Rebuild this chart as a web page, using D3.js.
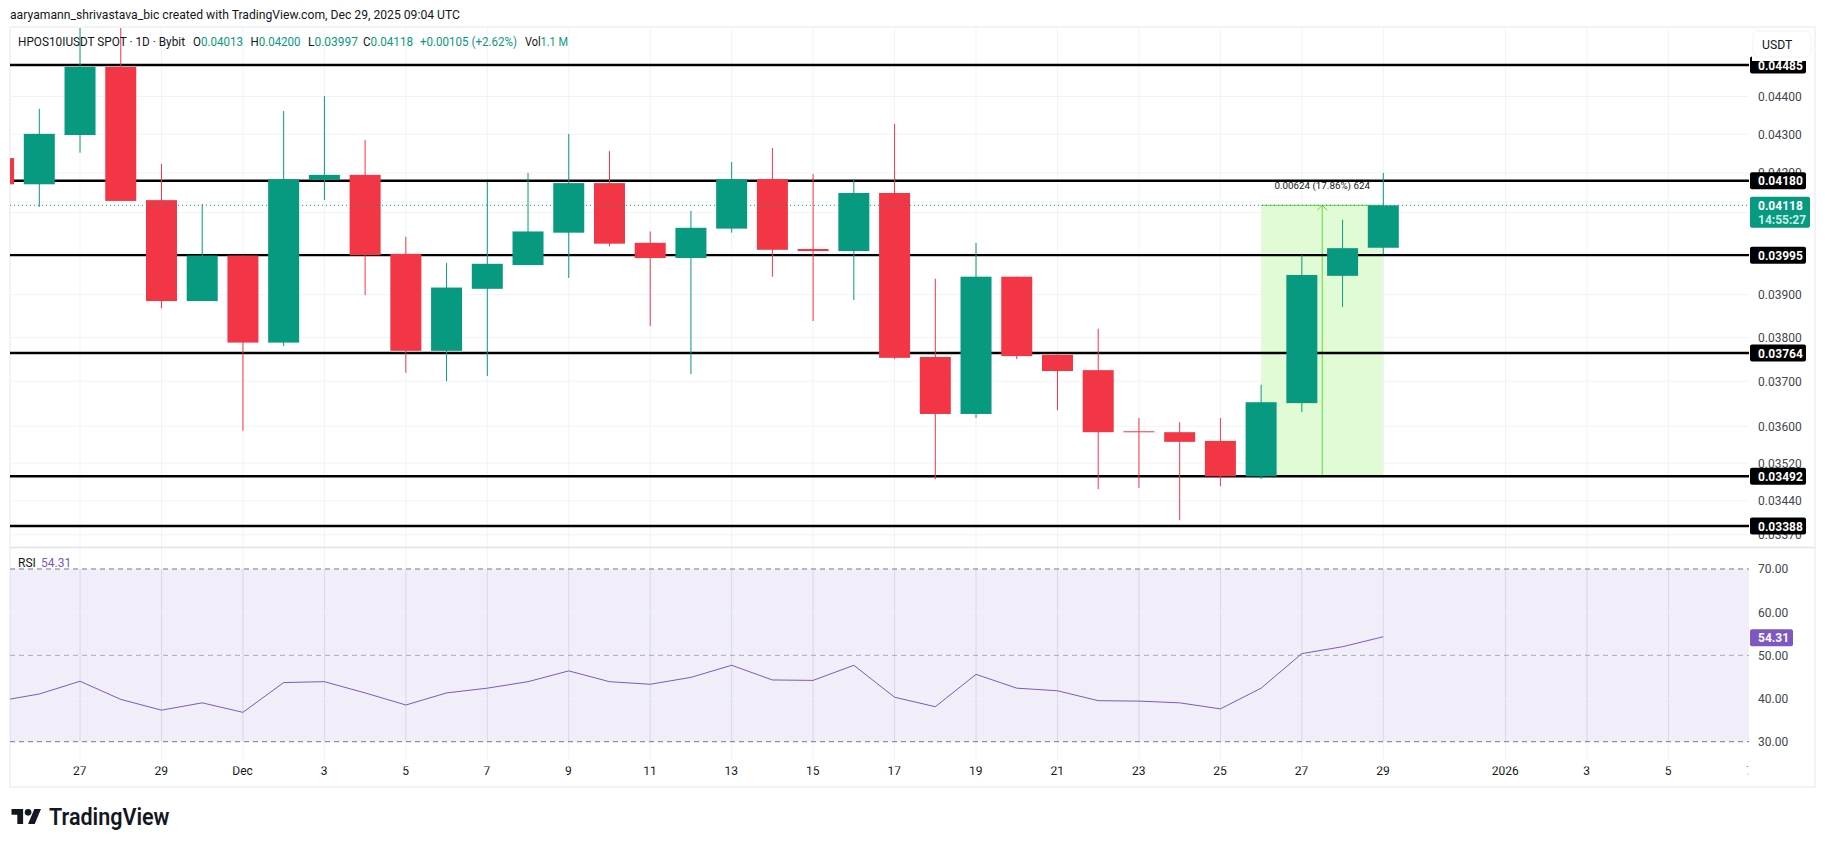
<!DOCTYPE html>
<html>
<head>
<meta charset="utf-8">
<script src="https://cdn.jsdelivr.net/npm/d3@7"></script>
<style>
html, body { margin: 0; padding: 0; background: #fff; overflow: hidden; }
text { font-family: Roboto, sans-serif; }
</style>
</head>
<body>
<svg id="chart" width="1825" height="847"></svg>
<script>
// daily candles, Nov 25 -> Dec 29 2025
const days = ['2025-11-25', '2025-11-26', '2025-11-27', '2025-11-28', '2025-11-29', '2025-11-30',
    '2025-12-01', '2025-12-02', '2025-12-03', '2025-12-04', '2025-12-05', '2025-12-06', '2025-12-07',
    '2025-12-08', '2025-12-09', '2025-12-10', '2025-12-11', '2025-12-12', '2025-12-13', '2025-12-14',
    '2025-12-15', '2025-12-16', '2025-12-17', '2025-12-18', '2025-12-19', '2025-12-20', '2025-12-21',
    '2025-12-22', '2025-12-23', '2025-12-24', '2025-12-25', '2025-12-26', '2025-12-27', '2025-12-28',
    '2025-12-29'];
const opens = [.04238, .04171, .04298, .04480, .04131, .03885, .03994, .03788, .04182, .04195, .03998, .03769,
    .03914, .03971, .04050, .04174, .04025, .03988, .04060, .04184, .04010, .04005, .04149, .03755, .03627,
    .03943, .03760, .03725, .03589, .03587, .03568, .03492, .03651, .03945, .04013];
const highs = [.04238, .04367, .04600, .04600, .04223, .04121, .03994, .04361, .04401, .04285, .04040, .03976,
    .04177, .04200, .04301, .04256, .04053, .04104, .04228, .04264, .04197, .04184, .04327, .03938, .04025,
    .03943, .03762, .03820, .03618, .03609, .03618, .03692, .03995, .04082, .04200];
const lows = [.04171, .04114, .04252, .04129, .03868, .03885, .03590, .03780, .04131, .03899, .03719, .03700,
    .03712, .03971, .03940, .04017, .03826, .03716, .04050, .03943, .03838, .03887, .03750, .03486, .03618,
    .03750, .03635, .03465, .03467, .03400, .03471, .03486, .03631, .03871, .03997];
const closes = [.04171, .04301, .04480, .04129, .03885, .03994, .03788, .04184, .04195, .03995, .03769, .03917,
    .03974, .04053, .04174, .04023, .03988, .04062, .04184, .04008, .04005, .04149, .03753, .03627, .03943,
    .03757, .03723, .03587, .03587, .03566, .03492, .03653, .03947, .04012, .04118];
const rsi = [39.4, 41.05, 44.0, 39.8, 37.3, 39.0, 36.8, 43.7, 43.9, 41.3, 38.5, 41.3, 42.4, 43.9, 46.4,
    43.9, 43.3, 44.9, 47.7, 44.3, 44.2, 47.7, 40.3, 38.1, 45.6, 42.4, 41.8, 39.5, 39.4, 39.0, 37.6, 42.4,
    50.4, 52.0, 54.31];

const levels = [.04485, .04180, .03995, .03764, .03492, .03388];
const priceGrid = [.044, .043, .042, .041, .040, .039, .038, .037, .036, .0352, .0344, .0337];
const priceLabels = [.044, .043, .042, .039, .038, .037, .036, .0352, .0344, .0337];
const rsiTicks = [70, 60, 50, 40, 30];
const rsiBands = [70, 50, 30];
const timeTicks = ['2025-11-27', '2025-11-29', '2025-12-01', '2025-12-03', '2025-12-05', '2025-12-07',
    '2025-12-09', '2025-12-11', '2025-12-13', '2025-12-15', '2025-12-17', '2025-12-19', '2025-12-21',
    '2025-12-23', '2025-12-25', '2025-12-27', '2025-12-29', '2026-01-01', '2026-01-03', '2026-01-05',
    '2026-01-07'];
const timeLabels = ['27', '29', 'Dec', '3', '5', '7', '9', '11', '13', '15', '17', '19', '21', '23', '25',
    '27', '29', '2026', '3', '5', '7'];
const measureFrom = '2025-12-26';
const measureTo = '2025-12-29';
const measureLow = .03492;
const lastPrice = .04118;

const UP = '#089981', DOWN = '#f23645', GRID = '#f0f3fa', PURPLE = '#7e57c2';
const LEFT = 10, PLOT_RIGHT = 1749, RIGHT = 1815, TOP = 28, DIVIDER = 547.5, BOTTOM = 787;

const parseDay = d3.utcParse('%Y-%m-%d');
const candles = days.map((d, i) => ({
    day: parseDay(d), o: opens[i], h: highs[i], l: lows[i], c: closes[i], rsi: rsi[i]
}));

const x = d3.scaleUtc().domain([parseDay('2025-11-26'), parseDay('2025-12-29')]).range([39.3, 1383.3]);
const y = d3.scaleLog().domain([.04485, .03388]).range([65, 526]);
const yRsi = d3.scaleLinear().domain([70, 30]).range([569, 741.7]);
const bodyW = 31;

const svg = d3.select('#chart');
const defs = svg.append('defs');
defs.append('clipPath').attr('id', 'pricePane').append('rect')
    .attr('x', LEFT).attr('y', TOP).attr('width', PLOT_RIGHT - LEFT).attr('height', DIVIDER - TOP);
defs.append('clipPath').attr('id', 'rsiPane').append('rect')
    .attr('x', LEFT).attr('y', DIVIDER).attr('width', PLOT_RIGHT - LEFT).attr('height', BOTTOM - DIVIDER);

const text = (parent, px, py, str, color, size, weight) => parent.append('text')
    .attr('x', px).attr('y', py).attr('fill', color)
    .attr('font-size', size).attr('font-weight', weight || 400).text(str);
// the reference type runs narrower than Roboto, squeeze to the measured width
const fit = (sel, w) => sel.attr('textLength', w).attr('lengthAdjust', 'spacingAndGlyphs');

// header
fit(text(svg, 10, 18.5, 'aaryamann_shrivastava_bic created with TradingView.com, Dec 29, 2025 09:04 UTC', '#131722', 12.6), 450);

// frame
svg.append('rect').attr('x', LEFT).attr('y', TOP - 1).attr('width', RIGHT - LEFT).attr('height', BOTTOM - TOP + 1)
    .attr('fill', '#fff').attr('stroke', GRID).attr('stroke-width', 2);

// grid
const gridV = svg.append('g');
gridV.selectAll('line').data(timeTicks.slice(0, -1)).enter().append('line')
    .attr('x1', d => x(parseDay(d))).attr('x2', d => x(parseDay(d)))
    .attr('y1', TOP).attr('y2', 760)
    .attr('stroke', GRID);
svg.append('g').selectAll('line').data(priceGrid).enter().append('line')
    .attr('x1', LEFT).attr('x2', PLOT_RIGHT)
    .attr('y1', d => y(d)).attr('y2', d => y(d))
    .attr('stroke', GRID);

// measure box sits under the levels and candles
const boxX0 = x(parseDay(measureFrom)), boxX1 = x(parseDay(measureTo));
svg.append('rect')
    .attr('x', boxX0).attr('width', boxX1 - boxX0)
    .attr('y', y(lastPrice)).attr('height', y(measureLow) - y(lastPrice))
    .attr('fill', '#e2fbd7');
const arrowX = (boxX0 + boxX1) / 2;
svg.append('path')
    .attr('d', `M${boxX0},${y(lastPrice)}H${boxX1}M${arrowX},${y(measureLow)}V${y(lastPrice)}M${arrowX - 5},${y(lastPrice) + 5}L${arrowX},${y(lastPrice)}L${arrowX + 5},${y(lastPrice) + 5}`)
    .attr('fill', 'none').attr('stroke', '#62d93c').attr('stroke-width', 1);

// horizontal levels
const pane = svg.append('g').attr('clip-path', 'url(#pricePane)');
pane.append('g').selectAll('line').data(levels).enter().append('line')
    .attr('x1', LEFT).attr('x2', PLOT_RIGHT)
    .attr('y1', d => y(d)).attr('y2', d => y(d))
    .attr('stroke', '#000').attr('stroke-width', 2.4);

// candles
const candle = pane.append('g').selectAll('g').data(candles).enter().append('g')
    .attr('fill', d => d.c >= d.o ? UP : DOWN)
    .attr('stroke', d => d.c >= d.o ? UP : DOWN);
candle.append('line')
    .attr('x1', d => x(d.day)).attr('x2', d => x(d.day))
    .attr('y1', d => y(d.h)).attr('y2', d => y(d.l));
candle.append('rect')
    .attr('x', d => x(d.day) - bodyW / 2).attr('width', bodyW)
    .attr('y', d => y(Math.max(d.o, d.c)))
    .attr('height', d => Math.max(1, y(Math.min(d.o, d.c)) - y(Math.max(d.o, d.c))))
    .attr('stroke', 'none');

// last price dotted line
pane.append('line')
    .attr('x1', LEFT).attr('x2', PLOT_RIGHT).attr('y1', y(lastPrice)).attr('y2', y(lastPrice))
    .attr('stroke', UP).attr('stroke-dasharray', '1 3');

// measure text
text(svg, arrowX, 189, '0.00624 (17.86%) 624', '#131722', 9.8).attr('text-anchor', 'middle');

// legend
const legendY = 46;
fit(text(svg, 18, legendY, 'HPOS10IUSDT SPOT · 1D · Bybit', '#131722', 12.6), 167);
[['O', '0.04013', 193], ['H', '0.04200', 250.5], ['L', '0.03997', 308], ['C', '0.04118', 363]].forEach(p => {
    const t = fit(text(svg, p[2], legendY, p[0], '#131722', 12.6), 50);
    t.append('tspan').attr('fill', UP).text(p[1]);
});
fit(text(svg, 420, legendY, '+0.00105 (+2.62%)', UP, 12.6), 97);
const vol = fit(text(svg, 525, legendY, 'Vol', '#131722', 12.6), 43);
vol.append('tspan').attr('fill', UP).text('1.1 M');

// price axis
const axisPrice = d3.axisRight(y).tickValues(priceLabels).tickSize(0).tickPadding(9)
    .tickFormat(d3.format('.5f'));
const gPrice = svg.append('g').attr('transform', `translate(${PLOT_RIGHT},0)`).call(axisPrice);
gPrice.select('.domain').remove();
gPrice.selectAll('text').attr('font-size', 12).attr('fill', '#42464f').style('font-family', 'Roboto, sans-serif');

// level tags
const tag = svg.append('g').selectAll('g').data(levels).enter().append('g')
    .attr('transform', d => `translate(1750,${y(d)})`);
tag.append('rect').attr('x', 0).attr('y', -8.5).attr('width', 56).attr('height', 17).attr('rx', 2).attr('fill', '#000');
tag.append('text').attr('x', 8).attr('y', 4.5).attr('fill', '#fff')
    .attr('font-size', 12).attr('font-weight', 700)
    .text(d => d3.format('.5f')(d));

// last price tag
const lastTag = svg.append('g').attr('transform', `translate(1750,${y(lastPrice) - 8.5})`);
lastTag.append('rect').attr('width', 60).attr('height', 31).attr('rx', 2).attr('fill', UP);
text(lastTag, 8, 13, d3.format('.5f')(lastPrice), '#fff', 12, 700);
text(lastTag, 8, 27, '14:55:27', '#c8eee4', 12, 700);

// currency button, it cuts the top of the first tag
svg.append('rect').attr('x', 1752).attr('y', 30).attr('width', 60).attr('height', 31).attr('fill', '#fff');
svg.append('rect').attr('x', 1753).attr('y', 31).attr('width', 58).attr('height', 26).attr('rx', 5)
    .attr('fill', '#fff').attr('stroke', GRID);
text(svg, 1762, 49, 'USDT', '#131722', 12.2);

// pane divider
svg.append('line').attr('x1', LEFT).attr('x2', RIGHT).attr('y1', DIVIDER).attr('y2', DIVIDER)
    .attr('stroke', '#e0e3eb').attr('stroke-width', 1.5);

// rsi pane
const rsiPane = svg.append('g').attr('clip-path', 'url(#rsiPane)');
rsiPane.append('rect')
    .attr('x', LEFT).attr('width', PLOT_RIGHT - LEFT)
    .attr('y', yRsi(70)).attr('height', yRsi(30) - yRsi(70))
    .attr('fill', PURPLE).attr('fill-opacity', .1);
rsiPane.append('g').selectAll('line').data(rsiTicks).enter().append('line')
    .attr('x1', LEFT).attr('x2', PLOT_RIGHT)
    .attr('y1', d => yRsi(d)).attr('y2', d => yRsi(d))
    .attr('stroke', GRID);
rsiPane.append('g').selectAll('line').data(rsiBands).enter().append('line')
    .attr('x1', LEFT).attr('x2', PLOT_RIGHT)
    .attr('y1', d => yRsi(d)).attr('y2', d => yRsi(d))
    .attr('stroke', '#787b86').attr('stroke-opacity', d => d === 50 ? .6 : 1)
    .attr('stroke-dasharray', '5 4');
rsiPane.append('g').selectAll('line').data(timeTicks.slice(0, -1)).enter().append('line')
    .attr('x1', d => x(parseDay(d))).attr('x2', d => x(parseDay(d)))
    .attr('y1', yRsi(70)).attr('y2', yRsi(30))
    .attr('stroke', '#787b86').attr('stroke-opacity', .1);
const rsiLine = d3.line().x(d => x(d.day)).y(d => yRsi(d.rsi));
rsiPane.append('path').datum(candles)
    .attr('d', rsiLine).attr('fill', 'none').attr('stroke', PURPLE).attr('stroke-width', 1);

text(svg, 18, 567, 'RSI', '#131722', 12);
text(svg, 41, 567, '54.31', PURPLE, 12);

const axisRsi = d3.axisRight(yRsi).tickValues(rsiTicks).tickSize(0).tickPadding(9)
    .tickFormat(d3.format('.2f'));
const gRsi = svg.append('g').attr('transform', `translate(${PLOT_RIGHT},0)`).call(axisRsi);
gRsi.select('.domain').remove();
gRsi.selectAll('text').attr('font-size', 12).attr('fill', '#42464f').style('font-family', 'Roboto, sans-serif');

const rsiTag = svg.append('g').attr('transform', `translate(1750,${yRsi(rsi[rsi.length - 1]) + 1})`);
rsiTag.append('rect').attr('y', -8.5).attr('width', 43).attr('height', 17).attr('rx', 2).attr('fill', PURPLE);
text(rsiTag, 8, 4.5, '54.31', '#fff', 12, 700);

// time axis, the last label is cut at the price scale
const axisTime = d3.axisBottom(x).tickValues(timeTicks.map(parseDay)).tickSize(0).tickPadding(0)
    .tickFormat((d, i) => timeLabels[i]);
const gTime = svg.append('g').attr('transform', 'translate(-0.8,766.5)')
    .attr('clip-path', 'url(#timeClip)').call(axisTime);
defs.append('clipPath').attr('id', 'timeClip').append('rect')
    .attr('x', LEFT).attr('y', 0).attr('width', PLOT_RIGHT - LEFT).attr('height', 20);
gTime.select('.domain').remove();
gTime.selectAll('text').attr('font-size', 12).attr('fill', '#131722').style('font-family', 'Roboto, sans-serif');

// wordmark
const logo = svg.append('g').attr('transform', 'translate(11.5,805.7) scale(.83)').attr('fill', '#131722');
logo.append('path').attr('d', 'M14 22H7V11H0V4h14v18zM28 22h-8l7.5-18h8L28 22z');
logo.append('circle').attr('cx', 20).attr('cy', 8).attr('r', 4);
fit(text(svg, 49, 825, 'TradingView', '#131722', 23, 600), 120.5);
</script>
</body>
</html>
